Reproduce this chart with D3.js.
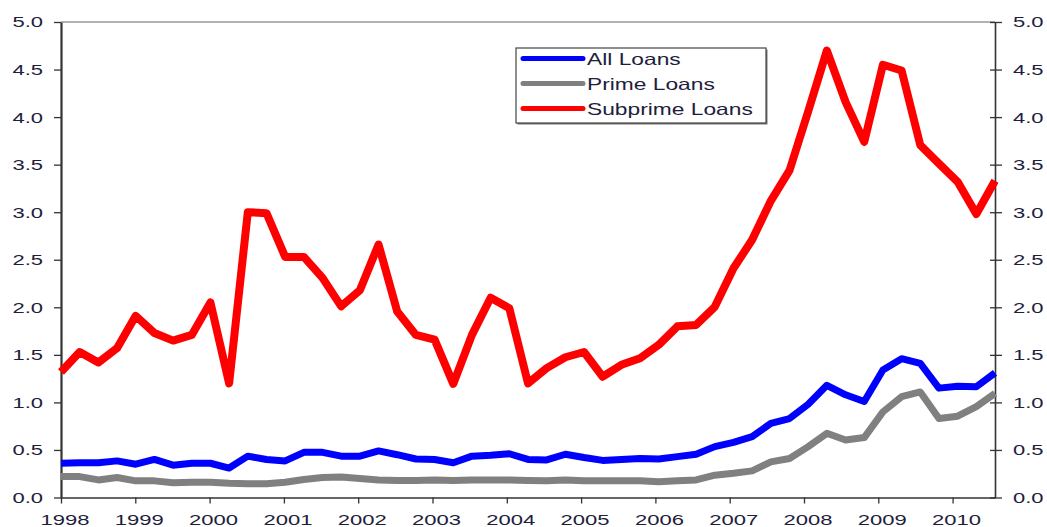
<!DOCTYPE html>
<html>
<head>
<meta charset="utf-8">
<script src="https://cdn.jsdelivr.net/npm/d3@7"></script>
<style>
  html, body { margin: 0; padding: 0; background: #fff; }
  svg { display: block; font-family: "Liberation Sans", Arial, sans-serif; }
</style>
</head>
<body>
<svg id="chart" width="1047" height="527"></svg>
<script>
// Quarterly delinquency rates, 1998 Q1 through 2010 Q3 (percent)
const quarters = d3.range(51).map(i => `${1998 + Math.floor(i / 4)}Q${(i % 4) + 1}`);

const allLoans = [
  0.36, 0.365, 0.365, 0.385, 0.35, 0.40, 0.34, 0.36, 0.36, 0.31,
  0.435, 0.40, 0.385, 0.475, 0.475, 0.435, 0.435, 0.49, 0.45, 0.405,
  0.40, 0.365, 0.435, 0.445, 0.46, 0.40, 0.395, 0.455, 0.42, 0.39,
  0.40, 0.41, 0.405, 0.43, 0.455, 0.535, 0.58, 0.64, 0.78, 0.83,
  0.98, 1.18, 1.08, 1.01, 1.34, 1.46, 1.41, 1.15, 1.17, 1.165, 1.31
];

const primeLoans = [
  0.22, 0.22, 0.185, 0.21, 0.175, 0.175, 0.155, 0.16, 0.16, 0.15,
  0.145, 0.145, 0.16, 0.19, 0.21, 0.215, 0.20, 0.185, 0.18, 0.18,
  0.185, 0.18, 0.185, 0.185, 0.185, 0.18, 0.175, 0.185, 0.175, 0.175,
  0.175, 0.175, 0.165, 0.175, 0.185, 0.235, 0.255, 0.28, 0.375, 0.41,
  0.535, 0.675, 0.605, 0.63, 0.90, 1.06, 1.11, 0.83, 0.855, 0.955, 1.095
];

const subprimeLoans = [
  1.32, 1.53, 1.42, 1.57, 1.91, 1.73, 1.65, 1.71, 2.05, 1.20,
  3.00, 2.99, 2.53, 2.53, 2.31, 2.01, 2.18, 2.66, 1.955, 1.71,
  1.66, 1.195, 1.71, 2.10, 1.99, 1.20, 1.36, 1.475, 1.53, 1.27,
  1.395, 1.465, 1.605, 1.80, 1.815, 2.005, 2.41, 2.71, 3.12, 3.44,
  4.06, 4.70, 4.16, 3.74, 4.55, 4.49, 3.705, 3.51, 3.32, 2.98, 3.33
];

const yearTicks = d3.range(1998, 2011);
const valueTicks = d3.range(0, 5.01, 0.5);

const seriesNames = ["All Loans", "Prime Loans", "Subprime Loans"];
const seriesColors = ["#0000ff", "#808080", "#ff0000"];

const svg = d3.select("#chart");
const plotLeft = 61, plotRight = 995, plotTop = 22, plotBottom = 497.5;

// Data points sit on an evenly spaced quarterly grid
const xq = d3.scalePoint().domain(quarters).range([plotLeft, plotRight]);
// Year labels use a calendar scale across the same span
const xYear = d3.scaleLinear().domain([1998, 1998 + (plotRight - plotLeft) / 74.3]).range([plotLeft, plotRight]);
const y = d3.scaleLinear().domain([0, 5]).range([plotBottom, plotTop]);

// Wide lettering: stretch each label horizontally
function widen(sel, factor) {
  sel.each(function () {
    const w = this.getComputedTextLength();
    this.setAttribute("textLength", (w * factor).toFixed(1));
    this.setAttribute("lengthAdjust", "spacingAndGlyphs");
  });
}

// top frame line
svg.append("line")
  .attr("x1", plotLeft).attr("x2", plotRight).attr("y1", plotTop).attr("y2", plotTop)
  .attr("stroke", "#9a9a9a").attr("stroke-width", 1.5);

const fmt = d3.format(".1f");

// left axis
const gl = svg.append("g").attr("transform", `translate(${plotLeft},0)`)
  .call(d3.axisLeft(y).tickValues(valueTicks).tickFormat(fmt).tickSize(7).tickSizeOuter(0).tickPadding(11));
gl.select(".domain").attr("stroke", "#333").attr("stroke-width", 2.2);
gl.selectAll(".tick line").attr("stroke", "#333").attr("stroke-width", 1.3);

// right axis
const gr = svg.append("g").attr("transform", `translate(${plotRight},0)`)
  .call(d3.axisRight(y).tickValues(valueTicks).tickFormat(fmt).tickSize(7).tickSizeOuter(0).tickPadding(11));
gr.select(".domain").attr("stroke", "#333").attr("stroke-width", 1.6);
gr.selectAll(".tick line").attr("x1", -5).attr("stroke", "#333").attr("stroke-width", 1.3);

// bottom axis
const gb = svg.append("g").attr("transform", `translate(0,${plotBottom})`)
  .call(d3.axisBottom(xYear).tickValues(yearTicks).tickFormat(d3.format("d")).tickSize(6).tickSizeOuter(0).tickPadding(10));
gb.select(".domain").attr("stroke", "#333").attr("stroke-width", 1.6);
gb.selectAll(".tick line").attr("stroke", "#333").attr("stroke-width", 1.3);
gb.selectAll(".tick text").attr("dx", 3.5);

svg.selectAll(".tick text")
  .attr("fill", "#1e1e3c")
  .style("font-size", "15.5px")
  .style("font-family", "'Liberation Sans', Arial, sans-serif")
  .call(widen, 1.42);

// series lines
const line = d3.line()
  .x((d, i) => xq(quarters[i]))
  .y(d => y(d))
  .curve(d3.curveLinear);

const drawOrder = [
  { values: primeLoans, color: seriesColors[1], width: 7 },
  { values: allLoans, color: seriesColors[0], width: 7 },
  { values: subprimeLoans, color: seriesColors[2], width: 8 }
];

svg.append("g").selectAll("path")
  .data(drawOrder)
  .join("path")
  .attr("d", d => line(d.values))
  .attr("fill", "none")
  .attr("stroke", d => d.color)
  .attr("stroke-width", d => d.width)
  .attr("stroke-linejoin", "round")
  .attr("stroke-linecap", "butt");

// legend
const lg = svg.append("g").attr("transform", "translate(516,48)");
lg.append("rect")
  .attr("x", 1.5).attr("y", 1.5).attr("width", 250).attr("height", 75)
  .attr("fill", "#777");
lg.append("rect")
  .attr("x", 0).attr("y", 0).attr("width", 250).attr("height", 75)
  .attr("fill", "#fff").attr("stroke", "#444").attr("stroke-width", 1.2);

const items = lg.selectAll("g.item")
  .data(seriesNames)
  .join("g")
  .attr("class", "item")
  .attr("transform", (d, i) => `translate(0,${10.5 + i * 25})`);
items.append("line")
  .attr("x1", 7).attr("x2", 67).attr("y1", 0).attr("y2", 0)
  .attr("stroke", (d, i) => seriesColors[i])
  .attr("stroke-width", 5)
  .attr("stroke-linecap", "round");
items.append("text")
  .attr("x", 71).attr("y", 6)
  .attr("fill", "#1e1e3c")
  .style("font-size", "16.5px")
  .text(d => d)
  .call(widen, 1.38);
</script>
</body>
</html>
